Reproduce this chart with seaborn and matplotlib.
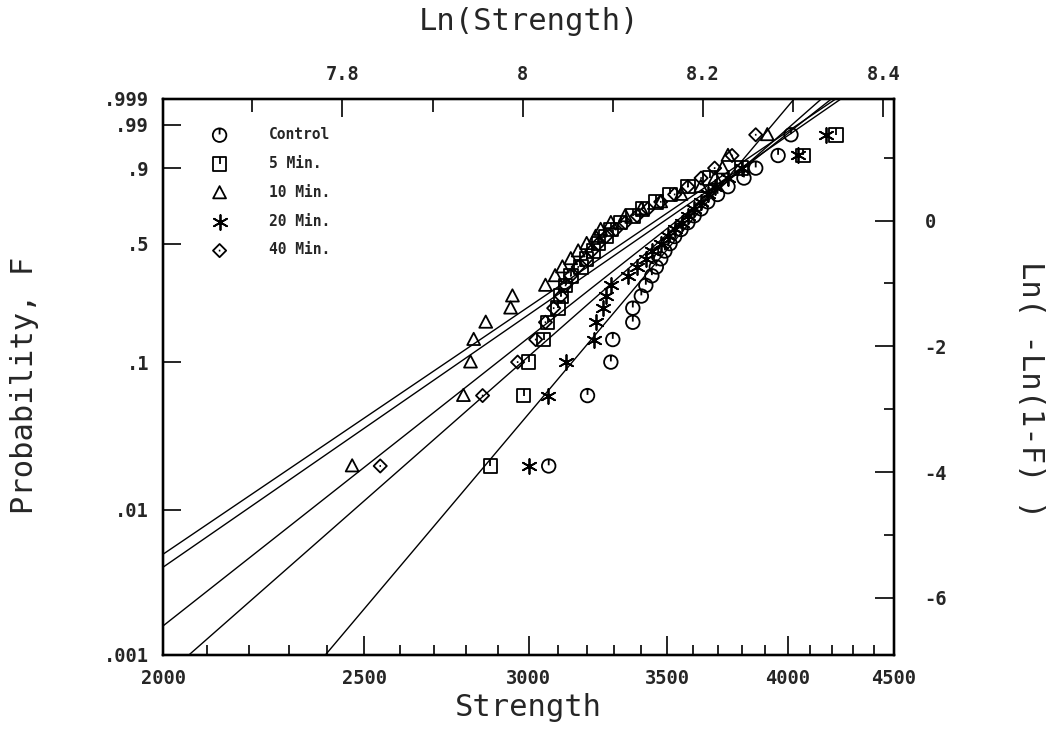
import numpy as np
import pandas as pd
import matplotlib
matplotlib.use("Agg")
import matplotlib.pyplot as plt
import seaborn as sns
from matplotlib.path import Path
from matplotlib.ticker import FixedLocator, FixedFormatter, NullFormatter, NullLocator

# ---------------- data ----------------
GROUPS = ["Control", "5 Min.", "10 Min.", "20 Min.", "40 Min."]
PROB = [0.02, 0.06, 0.10, 0.14, 0.18, 0.22, 0.26, 0.30, 0.34, 0.38, 0.42, 0.46, 0.50,
        0.54, 0.58, 0.62, 0.66, 0.70, 0.74, 0.78, 0.82, 0.86, 0.90, 0.94, 0.98]
CONTROL = [3068, 3203, 3287, 3294, 3368, 3368, 3400, 3417, 3440, 3457, 3474, 3490, 3510,
           3528, 3553, 3580, 3605, 3633, 3660, 3700, 3743, 3810, 3860, 3957, 4014]
MIN5 = [2876, 2984, 3000, 3051, 3064, 3100, 3110, 3126, 3144, 3180, 3200, 3225, 3242,
        3270, 3287, 3323, 3368, 3405, 3455, 3510, 3580, 3670, 3800, 4068, 4220]
MIN10 = [2467, 2791, 2813, 2823, 2861, 2941, 2947, 3057, 3090, 3115, 3144, 3170, 3200,
         3232, 3250, 3287, 3340, 3400, 3474, 3553, 3632, 3690, 3720, 3743, 3910]
MIN20 = [3000, 3064, 3126, 3226, 3232, 3257, 3271, 3287, 3350, 3384, 3417, 3440, 3474,
         3501, 3528, 3557, 3580, 3605, 3633, 3660, 3688, 3745, 3800, 4046, 4172]
MIN40 = [2545, 2851, 2964, 3024, 3057, 3085, 3110, 3126, 3144, 3170, 3200, 3218, 3242,
         3270, 3305, 3340, 3384, 3425, 3474, 3528, 3580, 3633, 3688, 3760, 3860]
# fitted Weibull lines: modulus m and characteristic strength S0
WEIBULL_M = [17.0, 11.3, 9.7, 12.6, 9.9]
WEIBULL_S0 = [3595, 3538, 3456, 3561, 3490]

X_TICKS = [2000, 2500, 3000, 3500, 4000, 4500]
X_MINOR = [2100, 2200, 2300, 2400, 2600, 2700, 2800, 2900, 3100, 3200, 3300, 3400,
           3600, 3700, 3800, 3900, 4100, 4200, 4300, 4400]
Y_TICKS = [0.001, 0.01, 0.1, 0.5, 0.9, 0.99, 0.999]
Y_LABELS = [".001", ".01", ".1", ".5", ".9", ".99", ".999"]
TOP_TICKS = [7.8, 8.0, 8.2, 8.4]
TOP_LABELS = ["7.8", "8", "8.2", "8.4"]
TOP_MINOR = [7.7, 7.9, 8.1, 8.3]
RIGHT_TICKS = [0, -2, -4, -6]
RIGHT_LABELS = ["0", "-2", "-4", "-6"]
RIGHT_MINOR = [1, -1, -3, -5]

series = [CONTROL, MIN5, MIN10, MIN20, MIN40]
df = pd.concat([pd.DataFrame({"Strength": s, "F": PROB, "group": g})
                for g, s in zip(GROUPS, series)], ignore_index=True)

# ---------------- markers ----------------
circ = Path.unit_circle()
tick_line = Path([[0, 1.0], [0, 0.1]], [Path.MOVETO, Path.LINETO])
m_control = Path.make_compound_path(circ, tick_line)
sq = Path([[-1, -1], [1, -1], [1, 1], [-1, 1], [-1, -1]],
          [Path.MOVETO, Path.LINETO, Path.LINETO, Path.LINETO, Path.CLOSEPOLY])
m_5 = Path.make_compound_path(sq, Path([[0, 1], [0, 0]], [Path.MOVETO, Path.LINETO]))
m_10 = Path([[-1, -0.85], [1, -0.85], [0, 1.05], [-1, -0.85]],
            [Path.MOVETO, Path.LINETO, Path.LINETO, Path.CLOSEPOLY])
m_20 = (6, 2, 0)
dia = Path([[0, -1], [1, 0], [0, 1], [-1, 0], [0, -1]],
           [Path.MOVETO, Path.LINETO, Path.LINETO, Path.LINETO, Path.CLOSEPOLY])
dot = Path([[-0.12, 0], [0.12, 0]], [Path.MOVETO, Path.LINETO])
m_40 = Path.make_compound_path(dia, dot)
MARKERS = [m_control, m_5, m_10, m_20, m_40]
SIZES = [95, 95, 95, 115, 90]

# ---------------- figure ----------------
sns.set_style("white")
plt.rcParams["font.family"] = ["DejaVu Sans Mono", "DejaVu Sans"]

fig = plt.figure(figsize=(10.47, 7.43), dpi=100)
L, R, T, B = 163, 894, 99, 655
ax = fig.add_axes([L / 1047, 1 - B / 743, (R - L) / 1047, (B - T) / 743])


def fwd(F):
    F = np.clip(np.asarray(F, dtype=float), 1e-12, 1 - 1e-12)
    return np.log(-np.log1p(-F))


def inv(Y):
    return -np.expm1(-np.exp(np.asarray(Y, dtype=float)))


ax.set_xscale("log")
ax.set_yscale("function", functions=(fwd, inv))
ax.set_xlim(2000, 4500)
ax.set_ylim(0.001, 0.999)

# fitted lines
for m, s0 in zip(WEIBULL_M, WEIBULL_S0):
    s_hi = s0 * np.exp(2.3 / m)
    s_line = np.geomspace(1900, s_hi, 200)
    f_line = -np.expm1(-(s_line / s0) ** m)
    sns.lineplot(x=s_line, y=f_line, ax=ax, color="black", linewidth=1.0,
                 sort=False, estimator=None)

# points
for g, mk, sz in zip(GROUPS, MARKERS, SIZES):
    sub = df[df["group"] == g]
    if g == "20 Min.":
        sns.scatterplot(data=sub, x="Strength", y="F", ax=ax, marker=mk, s=sz,
                        color="black", linewidth=1.3, label=g, zorder=3)
    else:
        sns.scatterplot(data=sub, x="Strength", y="F", ax=ax, marker=mk, s=sz,
                        color="black", facecolor="none", edgecolor="black",
                        linewidth=1.3, label=g, zorder=3)

ax.set_xlabel("")
ax.set_ylabel("")
tick_font = dict(family="DejaVu Sans Mono", weight="bold", size=13.5)

ax.xaxis.set_major_locator(FixedLocator(X_TICKS))
ax.xaxis.set_major_formatter(FixedFormatter([str(v) for v in X_TICKS]))
ax.xaxis.set_minor_locator(FixedLocator(X_MINOR))
ax.xaxis.set_minor_formatter(NullFormatter())
ax.yaxis.set_major_locator(FixedLocator(Y_TICKS))
ax.yaxis.set_major_formatter(FixedFormatter(Y_LABELS))
ax.yaxis.set_minor_locator(NullLocator())
ax.tick_params(axis="both", which="both", direction="in", top=False, right=False,
               color="black", width=1.2)
ax.tick_params(axis="x", which="major", length=14, pad=10)
ax.tick_params(axis="x", which="minor", length=7)
ax.tick_params(axis="y", which="major", length=13, pad=10)
for lab in ax.get_xticklabels() + ax.get_yticklabels():
    lab.set_fontproperties(tick_font)

# top axis: Ln(Strength)
axt = ax.twiny()
axt.set_xlim(np.log(2000), np.log(4500))
axt.xaxis.set_major_locator(FixedLocator(TOP_TICKS))
axt.xaxis.set_major_formatter(FixedFormatter(TOP_LABELS))
axt.xaxis.set_minor_locator(FixedLocator(TOP_MINOR))
axt.tick_params(axis="x", which="both", direction="in", color="black", width=1.2, pad=11)
axt.tick_params(axis="x", which="major", length=13)
axt.tick_params(axis="x", which="minor", length=9)
for lab in axt.get_xticklabels():
    lab.set_fontproperties(tick_font)

# right axis: Ln(-Ln(1-F))
axr = ax.twinx()
axr.set_ylim(float(fwd(0.001)), float(fwd(0.999)))
axr.yaxis.set_major_locator(FixedLocator(RIGHT_TICKS))
axr.yaxis.set_major_formatter(FixedFormatter(RIGHT_LABELS))
axr.yaxis.set_minor_locator(FixedLocator(RIGHT_MINOR))
axr.tick_params(axis="y", which="both", direction="in", color="black", width=1.2, pad=22)
axr.tick_params(axis="y", which="major", length=14)
axr.tick_params(axis="y", which="minor", length=7)
for lab in axr.get_yticklabels():
    lab.set_fontproperties(tick_font)

for a in (ax, axt, axr):
    for sp in a.spines.values():
        sp.set_color("black")
        sp.set_linewidth(1.6)

# legend
handles, labels = ax.get_legend_handles_labels()
leg = ax.legend(handles, labels, frameon=False, loc="upper left",
                bbox_to_anchor=((205 - L) / (R - L), 1 - (127 - T) / (B - T)),
                borderaxespad=0, borderpad=0, handlelength=2.0, handletextpad=2.4,
                labelspacing=0.95, prop=dict(family="DejaVu Sans Mono", weight="bold", size=10.5))

# axis titles
label_font = dict(family="DejaVu Sans Mono", size=22)
fig.text((L + R) / 2 / 1047, 1 - 708 / 743, "Strength", ha="center", va="center", **label_font)
fig.text((L + R) / 2 / 1047, 1 - 22 / 743, "Ln(Strength)", ha="center", va="center", **label_font)
fig.text(25 / 1047, 1 - 385 / 743, "Probability, F", ha="center", va="center",
         rotation=90, **label_font)
fig.text(1030 / 1047, 1 - 390 / 743, "Ln( -Ln(1-F) )", ha="center", va="center",
         rotation=270, **label_font)

fig.savefig("out.png", dpi=100)
